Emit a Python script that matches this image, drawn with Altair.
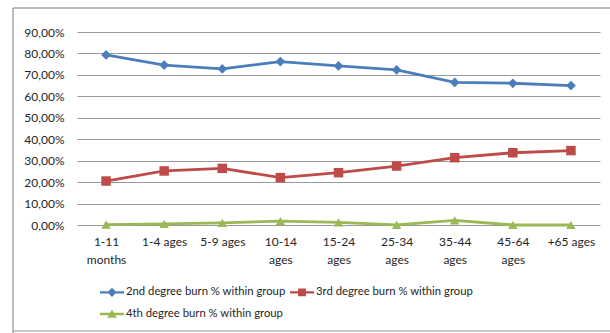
import altair as alt
import pandas as pd

# Age groups on the x axis
categories = ["1-11 months", "1-4 ages", "5-9 ages", "10-14 ages", "15-24 ages",
              "25-34 ages", "35-44 ages", "45-64 ages", "+65 ages"]

# Share of each burn degree within the age group (%)
second_degree = [79.3, 74.6, 72.8, 76.2, 74.2, 72.3, 66.5, 66.1, 65.0]
third_degree = [20.5, 25.2, 26.4, 22.1, 24.4, 27.5, 31.4, 33.7, 34.7]
fourth_degree = [0.2, 0.5, 1.0, 1.8, 1.2, 0.1, 2.2, 0.0, 0.0]

series_names = ["2nd degree burn % within group",
                "3rd degree burn % within group",
                "4th degree burn % within group"]
series_colors = ["#4A7EBB", "#BE4B48", "#98B954"]
marker_shapes = ["diamond", "square", "triangle-up"]
marker_sizes = [95, 90, 90]

# Legend symbols: a short line segment with the series marker on top
legend_paths = [
    "M-1,-0.1H1V0.1H-1ZM0,-0.38L0.38,0L0,0.38L-0.38,0Z",
    "M-1,-0.1H1V0.1H-1ZM-0.33,-0.33H0.33V0.33H-0.33Z",
    "M-1,-0.1H1V0.1H-1ZM0,-0.38L0.4,0.32L-0.4,0.32Z",
]

rows = []
for name, values in zip(series_names, [second_degree, third_degree, fourth_degree]):
    for cat, v in zip(categories, values):
        rows.append({"group": cat, "series": name, "pct": v})
df = pd.DataFrame(rows)

FONT = "Lato"
TEXT = "#262626"

x_enc = alt.X(
    "group:N",
    sort=categories,
    scale=alt.Scale(type="point", padding=0.5),
    axis=alt.Axis(
        title=None, labelAngle=0, domain=False, ticks=False, grid=False,
        labelPadding=11, labelFont=FONT, labelFontSize=12, labelColor=TEXT,
        labelLineHeight=18, labelBaseline="top",
        labelExpr="length(datum.value) > 8 ? split(datum.value, ' ') : datum.value",
    ),
)
y_enc = alt.Y(
    "pct:Q",
    scale=alt.Scale(domain=[0, 90], nice=False),
    axis=alt.Axis(
        title=None, values=list(range(0, 91, 10)), domain=False, ticks=False,
        labelPadding=13, labelFont=FONT, labelFontSize=12, labelColor=TEXT,
        gridColor="#9a9a9a", gridWidth=1,
        labelExpr="replace(format(datum.value, '.2f'), '.', ',') + '%'",
    ),
)
color_scale = alt.Scale(domain=series_names, range=series_colors)

lines = alt.Chart(df).mark_line(strokeWidth=2.8).encode(
    x=x_enc, y=y_enc,
    color=alt.Color("series:N", scale=color_scale, legend=None),
)

markers = []
for name, shape, size in zip(series_names, marker_shapes, marker_sizes):
    markers.append(
        alt.Chart(df).transform_filter(alt.datum.series == name)
        .mark_point(filled=True, opacity=1, shape=shape, size=size)
        .encode(x=x_enc, y=y_enc,
                color=alt.Color("series:N", scale=color_scale, legend=None))
    )

legend_layer = alt.Chart(df).transform_filter("false").mark_point(
    filled=True, opacity=1
).encode(
    x=x_enc, y=y_enc,
    color=alt.Color("series:N", scale=color_scale, legend=alt.Legend(
        title=None, orient="none", legendX=23, legendY=248, direction="horizontal",
        columns=2, symbolSize=576, symbolStrokeWidth=0, labelOffset=2,
        rowPadding=4, columnPadding=4, labelFont=FONT, labelFontSize=11.3,
        labelColor=TEXT, symbolOpacity=1, labelLimit=0,
    )),
    shape=alt.Shape("series:N", scale=alt.Scale(domain=series_names, range=legend_paths),
                    legend=alt.Legend(title=None, orient="none", legendX=23, legendY=248,
                                      labelLimit=0)),
)

# Outer frame around the chart (left, top and bottom edges)
frame_left = alt.Chart(alt.Data(values=[{}])).mark_rule(
    color="#a6a6a6", strokeWidth=1.5
).encode(x=alt.value(-64), y=alt.value(-24), y2=alt.value(310))
frame_top = alt.Chart(alt.Data(values=[{}])).mark_rule(
    color="#a6a6a6", strokeWidth=1.5
).encode(x=alt.value(-64), x2=alt.value(540), y=alt.value(-24))
frame_bottom = alt.Chart(alt.Data(values=[{}])).mark_rule(
    color="#b4b4b4", strokeWidth=1.5
).encode(x=alt.value(-64), x2=alt.value(540), y=alt.value(299))

chart = alt.layer(frame_left, frame_top, frame_bottom, lines, *markers,
                  legend_layer).resolve_legend(
    color="independent", shape="independent"
).properties(
    width=523, height=193,
    autosize=alt.AutoSizeParams(type="none"),
    padding={"left": 77, "top": 32, "right": 10, "bottom": 108},
    background="white",
).configure_view(stroke=None)

chart.save("out.html", embed_options={"renderer": "svg", "actions": False})
